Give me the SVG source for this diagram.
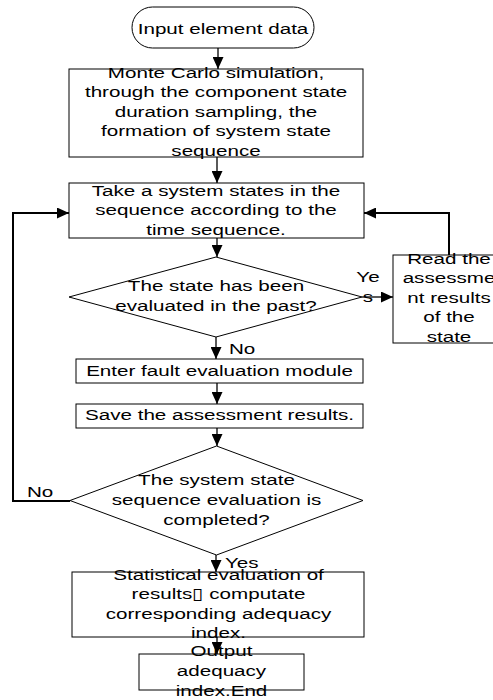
<svg xmlns="http://www.w3.org/2000/svg" width="493" height="700" viewBox="0 0 493 700">
<defs>
<marker id="ah" markerUnits="userSpaceOnUse" viewBox="0 0 12 11" markerWidth="12" markerHeight="11" refX="12" refY="5.5" orient="auto"><path d="M0,0 L12,5.5 L0,11 z" fill="#000"/></marker>
<style>
.s{fill:#fff;stroke:#000;stroke-width:1}
.t{font-family:"Liberation Sans",Arial,"DejaVu Sans",sans-serif;font-size:15.5px;text-anchor:middle;fill:#000}
.l{text-anchor:start}
.c{fill:none;stroke:#000;stroke-width:1.3;marker-end:url(#ah)}
.c2{fill:none;stroke:#000;stroke-width:2;marker-end:url(#ah)}
</style>
</defs>
<rect width="493" height="700" fill="#fff"/>

<g id="start">
<rect class="s" x="132" y="7" width="182" height="41" rx="20.5"/>
<text class="t" transform="translate(223,0) scale(1.33,1)"><tspan x="0" y="34">Input element data</tspan></text>
</g>

<g id="montecarlo">
<rect class="s" x="69" y="69" width="294" height="88"/>
<text class="t" transform="translate(216,0) scale(1.33,1)"><tspan x="0" y="78">Monte Carlo simulation,</tspan><tspan x="0" y="97.5">through the component state</tspan><tspan x="0" y="117">duration sampling, the</tspan><tspan x="0" y="136.5">formation of system state</tspan><tspan x="0" y="156">sequence</tspan></text>
</g>

<g id="take">
<rect class="s" x="69" y="183" width="295" height="55"/>
<text class="t" transform="translate(216,0) scale(1.33,1)"><tspan x="0" y="196">Take a system states in the</tspan><tspan x="0" y="215.5">sequence according to the</tspan><tspan x="0" y="235">time sequence.</tspan></text>
</g>

<g id="evaluated">
<polygon class="s" points="69,297 216,257 362,297 216,337"/>
<text class="t" transform="translate(216,0) scale(1.33,1)"><tspan x="0" y="291.5">The state has been</tspan><tspan x="0" y="311">evaluated in the past?</tspan></text>
</g>

<g id="read">
<rect class="s" x="393" y="255" width="112" height="88"/>
<text class="t" transform="translate(449,0) scale(1.33,1)"><tspan x="0" y="264">Read the</tspan><tspan x="0" y="283.5">assessme</tspan><tspan x="0" y="303">nt results</tspan><tspan x="0" y="322.5">of the</tspan><tspan x="0" y="342">state</tspan></text>
</g>

<g id="enter">
<rect class="s" x="76" y="359" width="287" height="24"/>
<text class="t" transform="translate(219.5,0) scale(1.33,1)"><tspan x="0" y="376">Enter fault evaluation module</tspan></text>
</g>

<g id="save">
<rect class="s" x="76" y="404" width="287" height="24"/>
<text class="t" transform="translate(219.5,0) scale(1.33,1)"><tspan x="0" y="420.5">Save the assessment results.</tspan></text>
</g>

<g id="completed">
<polygon class="s" points="70,500.5 216.5,446 363,500.5 216.5,555"/>
<text class="t" transform="translate(216.5,0) scale(1.33,1)"><tspan x="0" y="485.5">The system state</tspan><tspan x="0" y="505">sequence evaluation is</tspan><tspan x="0" y="524.5">completed?</tspan></text>
</g>

<g id="statistical">
<rect class="s" x="72" y="572" width="292" height="65"/>
<text class="t" transform="translate(218.5,0) scale(1.33,1)"><tspan x="0" y="580">Statistical evaluation of</tspan><tspan x="0" y="599.5">results▯ computate</tspan><tspan x="0" y="619">corresponding adequacy</tspan><tspan x="0" y="638.5">index.</tspan></text>
</g>

<g id="output">
<rect class="s" x="139" y="654" width="165" height="36"/>
<text class="t" transform="translate(221.5,0) scale(1.33,1)"><tspan x="0" y="656.5">Output</tspan><tspan x="0" y="676">adequacy</tspan><tspan x="0" y="695.5">index.End</tspan></text>
</g>

<g id="connectors">
<path class="c" d="M218,48 V69"/>
<path class="c" d="M217,157 V183"/>
<path class="c" d="M217,238 V257"/>
<path class="c" d="M216,337 V359"/>
<path class="c" d="M217,383 V404"/>
<path class="c" d="M217,428 V446"/>
<path class="c" d="M216,555 V572"/>
<path class="c" d="M217,637 V654"/>
<path class="c" d="M362,297 H393"/>
<path class="c2" d="M449,255 V213 H364"/>
<path class="c2" d="M70,501 H13 V213 H69"/>
<text class="t" transform="translate(368,0) scale(1.33,1)"><tspan x="0" y="282">Ye</tspan><tspan x="0" y="302">s</tspan></text>
<text class="t l" transform="translate(229,0) scale(1.33,1)"><tspan x="0" y="354">No</tspan></text>
<text class="t l" transform="translate(27,0) scale(1.33,1)"><tspan x="0" y="497">No</tspan></text>
<text class="t l" transform="translate(225,0) scale(1.33,1)"><tspan x="0" y="568">Yes</tspan></text>
</g>
</svg>
